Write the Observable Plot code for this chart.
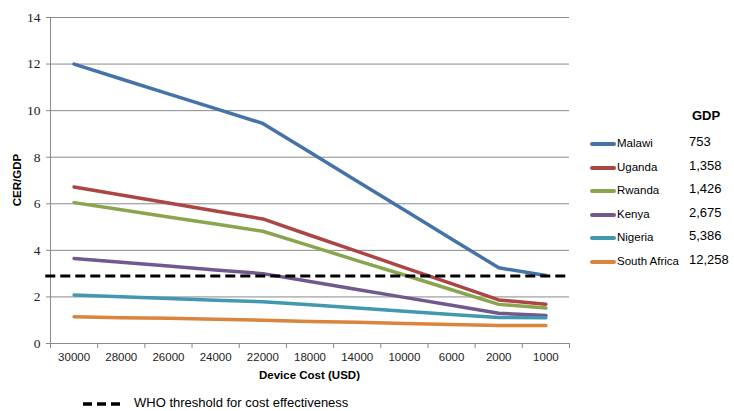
<!DOCTYPE html>
<html>
<head>
<meta charset="utf-8">
<script src="https://cdn.jsdelivr.net/npm/d3@7"></script>
<script src="https://cdn.jsdelivr.net/npm/@observablehq/plot@0.6"></script>
<style>
  body { margin: 0; background: #fff; }
  #wrap { position: relative; width: 734px; height: 411px; font-family: "Liberation Sans", Arial, sans-serif; }
  #legend { position: absolute; left: 590px; top: 108px; }
  .row { position: absolute; left: 0; height: 20px; white-space: nowrap; }
  .sw { position: absolute; left: 0; top: 9px; width: 26px; height: 4px; border-radius: 2px; }
  .lab { position: absolute; left: 27px; top: 4px; font-size: 11.5px; color: #000; }
  .val { position: absolute; left: 99px; top: 1px; font-size: 13px; color: #000; }
  #gdp { position: absolute; left: 102px; top: 0px; font-size: 13px; font-weight: bold; }
  #bottom { position: absolute; left: 83px; top: 395px; font-size: 13px; color: #000; white-space: nowrap; }
  #bottom svg { vertical-align: middle; margin-right: 14px; }
  text.serif { font-family: 'Liberation Serif', 'Times New Roman', Times, serif !important; }
</style>
</head>
<body>
<div id="wrap"><div id="chart"></div><div id="legend"></div><div id="bottom"><svg width="37" height="6"><line x1="0" y1="3" x2="37" y2="3" stroke="#000" stroke-width="3.5" stroke-dasharray="9,5"/></svg>WHO threshold for cost effectiveness</div></div>
<script>
const costs = ["30000","28000","26000","24000","22000","18000","14000","10000","6000","2000","1000"];
const countries = ["Malawi","Uganda","Rwanda","Kenya","Nigeria","South Africa"];
const gdp = ["753","1,358","1,426","2,675","5,386","12,258"];
const colors = ["#4572A7","#AA4643","#89A54E","#71588F","#4198AF","#DB843D"];
const malawi = [12.0, 11.36, 10.72, 10.09, 9.45, 8.21, 6.97, 5.73, 4.49, 3.25, 2.92];
const uganda = [6.72, 6.38, 6.03, 5.69, 5.35, 4.65, 3.96, 3.26, 2.57, 1.87, 1.69];
const rwanda = [6.05, 5.74, 5.43, 5.13, 4.82, 4.19, 3.56, 2.94, 2.31, 1.68, 1.52];
const kenya = [3.65, 3.49, 3.33, 3.16, 3.0, 2.66, 2.32, 1.98, 1.64, 1.30, 1.20];
const nigeria = [2.08, 2.01, 1.93, 1.86, 1.79, 1.66, 1.52, 1.39, 1.25, 1.12, 1.11];
const southAfrica = [1.15, 1.11, 1.08, 1.04, 1.0, 0.95, 0.91, 0.86, 0.82, 0.77, 0.77];
const threshold = 2.9;
const yTicks = [0,2,4,6,8,10,12,14];

const series = [malawi, uganda, rwanda, kenya, nigeria, southAfrica];
const data = [];
series.forEach((vals, s) => vals.forEach((v, i) => data.push({country: countries[s], i: i + 0.5, v})));
const centers = costs.map((c, i) => i + 0.5);
const bounds = d3.range(costs.length + 1);

const chart = Plot.plot({
  width: 734, height: 385,
  marginTop: 17, marginBottom: 42, marginLeft: 50, marginRight: 165,
  x: {domain: [0, costs.length]},
  y: {domain: [0, 14]},
  color: {domain: countries, range: colors},
  marks: [
    Plot.gridY(yTicks, {stroke: "#8a8a8a", strokeOpacity: 1, strokeWidth: 1}),
    Plot.axisY(yTicks, {tickSize: 4, tickFormat: () => "", stroke: "#8a8a8a", label: null}),
    Plot.text(yTicks, {x: 0, y: d => d, dx: -10, textAnchor: "end", fontSize: 13.5, fill: "#222", className: "serif"}),
    Plot.axisX(bounds, {tickSize: 5, tickFormat: () => "", stroke: "#8a8a8a", label: null}),
    Plot.axisX(centers, {tickSize: 0, tickPadding: 9, tickFormat: d => costs[Math.round(d - 0.5)], fontSize: 11.5, label: null, color: "#222"}),
    Plot.ruleX([0], {stroke: "#8a8a8a"}),
    Plot.ruleY([0], {stroke: "#8a8a8a"}),
    Plot.line(data, {x: "i", y: "v", z: "country", stroke: "country", strokeWidth: 3.5, strokeLinejoin: "round", strokeLinecap: "round"}),
    Plot.ruleY([threshold], {stroke: "#000", strokeWidth: 3, strokeDasharray: "10,5", x1: -0.1, x2: costs.length})
  ],
  style: {background: "#fff", overflow: "visible", fontFamily: "Liberation Sans, Arial, sans-serif"}
});

const svg = d3.select(chart);
svg.selectAll("g.serif text, g.serif").classed("serif", true);
svg.append("text").attr("x", (50 + 569) / 2).attr("y", 379).attr("text-anchor", "middle")
  .attr("font-family", "Liberation Sans, Arial, sans-serif").attr("font-size", 11.5).attr("font-weight", "bold")
  .text("Device Cost (USD)");
svg.append("text").attr("transform", "translate(21,180) rotate(-90)").attr("text-anchor", "middle")
  .attr("font-family", "Liberation Sans, Arial, sans-serif").attr("font-size", 11.5).attr("font-weight", "bold")
  .text("CER/GDP");

document.getElementById("chart").appendChild(chart);

const legend = document.getElementById("legend");
legend.innerHTML = '<div id="gdp">GDP</div>' + countries.map((c, k) =>
  `<div class="row" style="top:${25 + k * 23.6}px"><div class="sw" style="background:${colors[k]}"></div><div class="lab">${c}</div><div class="val">${gdp[k]}</div></div>`
).join("");
</script>
</body>
</html>
